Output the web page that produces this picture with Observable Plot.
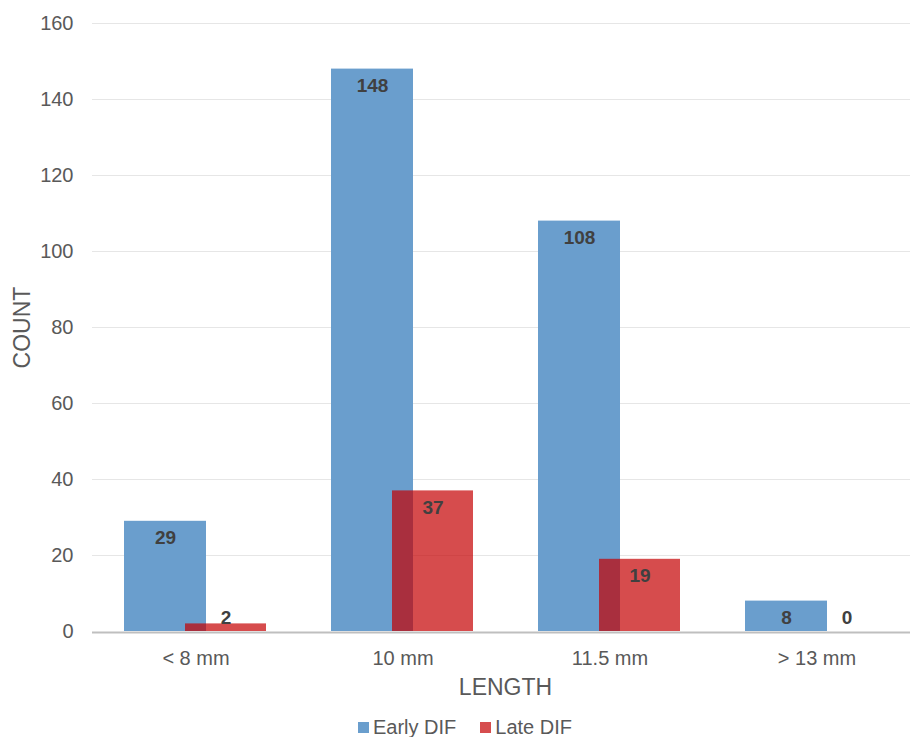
<!DOCTYPE html>
<html>
<head>
<meta charset="utf-8">
<script src="https://cdn.jsdelivr.net/npm/d3@7"></script>
<script src="https://cdn.jsdelivr.net/npm/@observablehq/plot@0.6"></script>
<style>
  html, body { margin: 0; padding: 0; background: #fff; }
  body { width: 910px; font-family: "Liberation Sans", Arial, sans-serif; }
  #chart svg { display: block; }
  #legend { display: flex; justify-content: center; align-items: center; gap: 24px; margin-top: 12px; padding-left: 20px; font-size: 20px; line-height: 1; color: #595959; }
  #legend .item { display: flex; align-items: center; gap: 4px; }
  #legend .sw { width: 11px; height: 11px; display: inline-block; }
</style>
</head>
<body>
<div id="chart"></div>
<div id="legend">
  <div class="item"><span class="sw" style="background:#6a9ecd"></span><span>Early DIF</span></div>
  <div class="item"><span class="sw" style="background:#d64d4e"></span><span>Late DIF</span></div>
</div>
<script>
const categories = ["< 8 mm", "10 mm", "11.5 mm", "> 13 mm"];
const earlyDIF = [29, 148, 108, 8];
const lateDIF = [2, 37, 19, 0];
const yTicks = [0, 20, 40, 60, 80, 100, 120, 140, 160];

const early = categories.map((c, i) => ({category: c, value: earlyDIF[i]}));
const late = categories.map((c, i) => ({category: c, value: lateDIF[i]}));
const labelY = d => Math.max(d.value, 8);

const chart = Plot.plot({
  width: 910,
  height: 705,
  marginTop: 23,
  marginLeft: 92,
  marginRight: 0,
  marginBottom: 74,
  style: {fontFamily: "'Liberation Sans', Arial, sans-serif", background: "#fff"},
  x: {domain: categories, range: [92, 920], padding: 0},
  y: {domain: [0, 160]},
  marks: [
    Plot.gridY(yTicks.filter(t => t > 0), {stroke: "#e6e6e6", strokeOpacity: 1}),
    Plot.axisY(yTicks, {tickSize: 0, tickPadding: 19, fontSize: 20, fill: "#595959", label: null}),
    Plot.axisX({tickSize: 0, tickPadding: 19, fontSize: 20, fill: "#595959", label: null}),
    Plot.barY(early, {x: "category", y: "value", fill: "#6a9ecd", insetLeft: 32, insetRight: 93}),
    Plot.barY(late, {x: "category", y: "value", fill: "rgb(196,0,2)", fillOpacity: 0.7, insetLeft: 93, insetRight: 33}),
    Plot.ruleY([0], {stroke: "#bfbfbf", strokeWidth: 2, dy: 1}),
    Plot.text(early, {x: "category", y: labelY, text: d => String(d.value), dx: -30.5, dy: 17, fontSize: 19, fontWeight: "bold", fill: "#404040"}),
    Plot.text(late, {x: "category", y: labelY, text: d => String(d.value), dx: 30, dy: 17, fontSize: 19, fontWeight: "bold", fill: "#404040"}),
    Plot.text(["LENGTH"], {frameAnchor: "bottom", text: d => d, lineAnchor: "middle", textAnchor: "middle", dy: 56, dx: 4, fontSize: 23, fill: "#595959"}),
    Plot.text(["COUNT"], {frameAnchor: "left", text: d => d, rotate: -90, textAnchor: "middle", lineAnchor: "middle", dx: -70, fontSize: 23, fill: "#595959"})
  ]
});
document.getElementById("chart").appendChild(chart);
</script>
</body>
</html>
